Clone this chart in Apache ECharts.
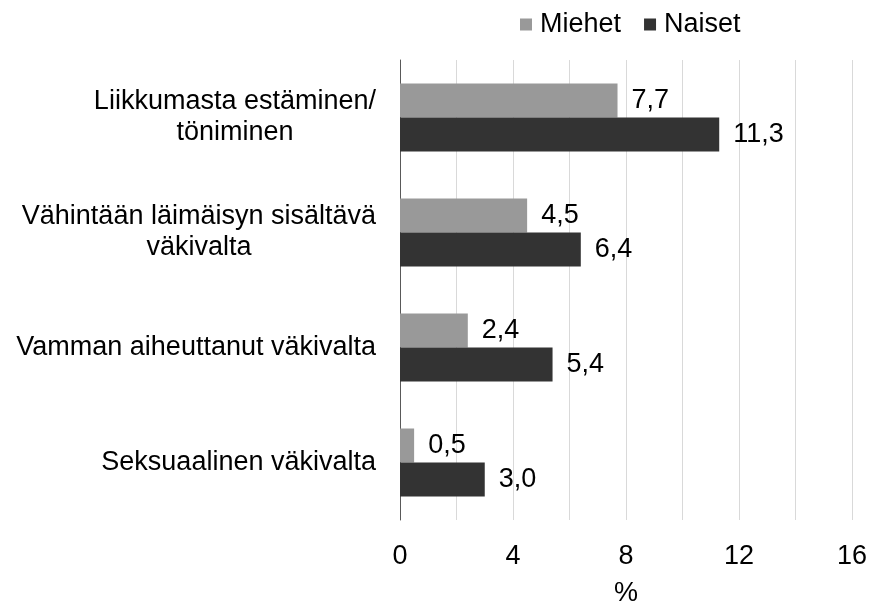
<!DOCTYPE html>
<html>
<head>
<meta charset="utf-8">
<script src="https://cdn.jsdelivr.net/npm/echarts@6/dist/echarts.min.js"></script>
<style>
  html, body { margin: 0; padding: 0; background: #fff; }
  #chart { width: 872px; height: 606px; }
</style>
</head>
<body>
<div id="chart"></div>
<script>
// luokat ja arvot (%)
var categories = [
  'Liikkumasta estäminen/\ntöniminen',
  'Vähintään läimäisyn sisältävä\nväkivalta',
  'Vamman aiheuttanut väkivalta',
  'Seksuaalinen väkivalta'
];
var miehet = [7.7, 4.5, 2.4, 0.5];
var naiset = [11.3, 6.4, 5.4, 3.0];
var xTicks = [0, 4, 8, 12, 16];

var font = 'Liberation Sans, Arial, sans-serif';
var fs = 27;
var fmt = function (p) { return p.value.toFixed(1).replace('.', ','); };

var myChart = echarts.init(document.getElementById('chart'));
myChart.setOption({
  animation: false,
  textStyle: { fontFamily: font },
  legend: {
    left: 515,
    top: 6,
    itemWidth: 12,
    itemHeight: 12,
    itemGap: 23,
    icon: 'rect',
    textStyle: { fontSize: fs, color: '#000', fontFamily: font, padding: [0, 0, 0, 3] },
    data: ['Miehet', 'Naiset']
  },
  grid: { left: 400, right: 20, top: 60, bottom: 86, containLabel: false, outerBoundsMode: 'none' },
  xAxis: {
    type: 'value',
    min: 0,
    max: 16,
    interval: 2,
    name: '%',
    nameLocation: 'middle',
    nameGap: 60,
    nameTextStyle: { fontSize: fs, color: '#000', fontFamily: font },
    axisLine: { show: false },
    axisTick: { show: false },
    axisLabel: {
      fontSize: fs,
      color: '#000',
      margin: 23,
      formatter: function (v) { return xTicks.indexOf(v) >= 0 ? String(v) : ''; }
    },
    splitLine: { show: true, lineStyle: { color: '#d9d9d9', width: 1 } }
  },
  yAxis: {
    type: 'category',
    inverse: true,
    data: categories,
    axisLine: { show: true, lineStyle: { color: '#595959', width: 1 } },
    axisTick: { show: false },
    axisLabel: {
      fontSize: fs,
      color: '#000',
      margin: 24,
      align: 'right',
      formatter: function (v) {
        return v.split('\n').map(function (l) { return '{c|' + l + '}'; }).join('\n');
      },
      rich: { c: { align: 'center', fontSize: fs, color: '#000', lineHeight: 31, fontFamily: font } }
    }
  },
  series: [
    {
      name: 'Miehet',
      type: 'bar',
      data: miehet,
      barWidth: 34,
      barGap: '0%',
      itemStyle: { color: '#999999' },
      label: { show: true, position: 'right', distance: 14, fontSize: fs, color: '#000', formatter: fmt }
    },
    {
      name: 'Naiset',
      type: 'bar',
      data: naiset,
      barWidth: 34,
      barGap: '0%',
      itemStyle: { color: '#333333' },
      label: { show: true, position: 'right', distance: 14, fontSize: fs, color: '#000', formatter: fmt }
    }
  ]
});
</script>
</body>
</html>
